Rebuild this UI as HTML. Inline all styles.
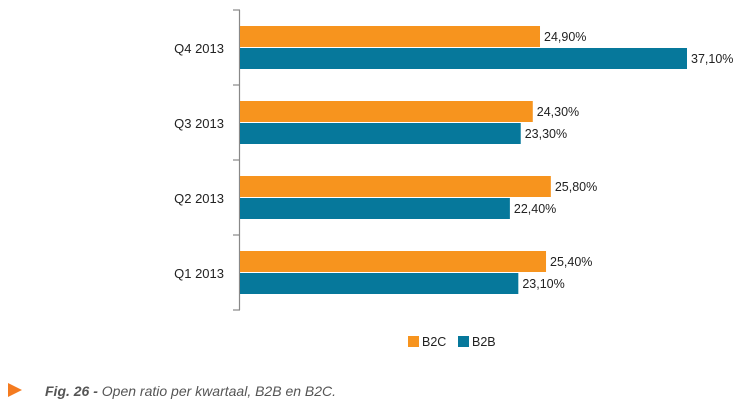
<!DOCTYPE html>
<html><head><meta charset="utf-8"><style>
body{margin:0;background:#fff;width:746px;height:406px;overflow:hidden;font-family:"Liberation Sans",sans-serif}
</style></head><body>
<svg width="746" height="406" id="c">
<line x1="239.5" y1="10" x2="239.5" y2="310" stroke="#888" stroke-width="1.2"/>
<g id="bars"></g>
<g>
<rect x="408" y="336" width="11" height="11" fill="#F7941E"/>
<text x="422" y="346" font-size="12.5" fill="#222">B2C</text>
<rect x="458" y="336" width="11" height="11" fill="#06789B"/>
<text x="472" y="346" font-size="12.5" fill="#222">B2B</text>
</g>
<polygon points="8,383 22,390 8,397" fill="#F47B20"/>
<text x="45" y="396" font-size="14" font-style="italic" fill="#555"><tspan font-weight="bold">Fig. 26 -</tspan> Open ratio per kwartaal, B2B en B2C.</text>
</svg>
<script>
const categories=["Q4 2013","Q3 2013","Q2 2013","Q1 2013"];
const b2c=[24.9,24.3,25.8,25.4];
const b2b=[37.1,23.3,22.4,23.1];
const NS="http://www.w3.org/2000/svg";
const g=document.getElementById("bars");
const x0=240, pxPer=447/37.1, axisTop=10, band=75;
const xs=v=>x0+v*pxPer;
function mk(t,a){const e=document.createElementNS(NS,t);for(const k in a)e.setAttribute(k,a[k]);g.appendChild(e);return e;}
const fmt=v=>v.toFixed(2).replace(".",",")+"%";
for(let i=0;i<=categories.length;i++){
  const t=mk("line",{x1:233,x2:240,y1:axisTop+i*band,y2:axisTop+i*band,stroke:"#888","stroke-width":1.2});
  
  
}
categories.forEach((c,i)=>{
  const by=axisTop+i*band+16;
  const l=mk("text",{x:224,y:by+27,"font-size":13,"text-anchor":"end",fill:"#222"});l.textContent=c;
  
  
  [[b2c[i],"#F7941E",by,"b2c"],[b2b[i],"#06789B",by+22,"b2b"]].forEach(([v,col,y,s])=>{
    const r=mk("rect",{x:x0,y:y,width:xs(v)-x0,height:21,fill:col});
    
    
    const t=mk("text",{x:xs(v)+4,y:y+15,"font-size":12.5,fill:"#222"});t.textContent=fmt(v);
    
    
  });
});
</script>
</body></html>
